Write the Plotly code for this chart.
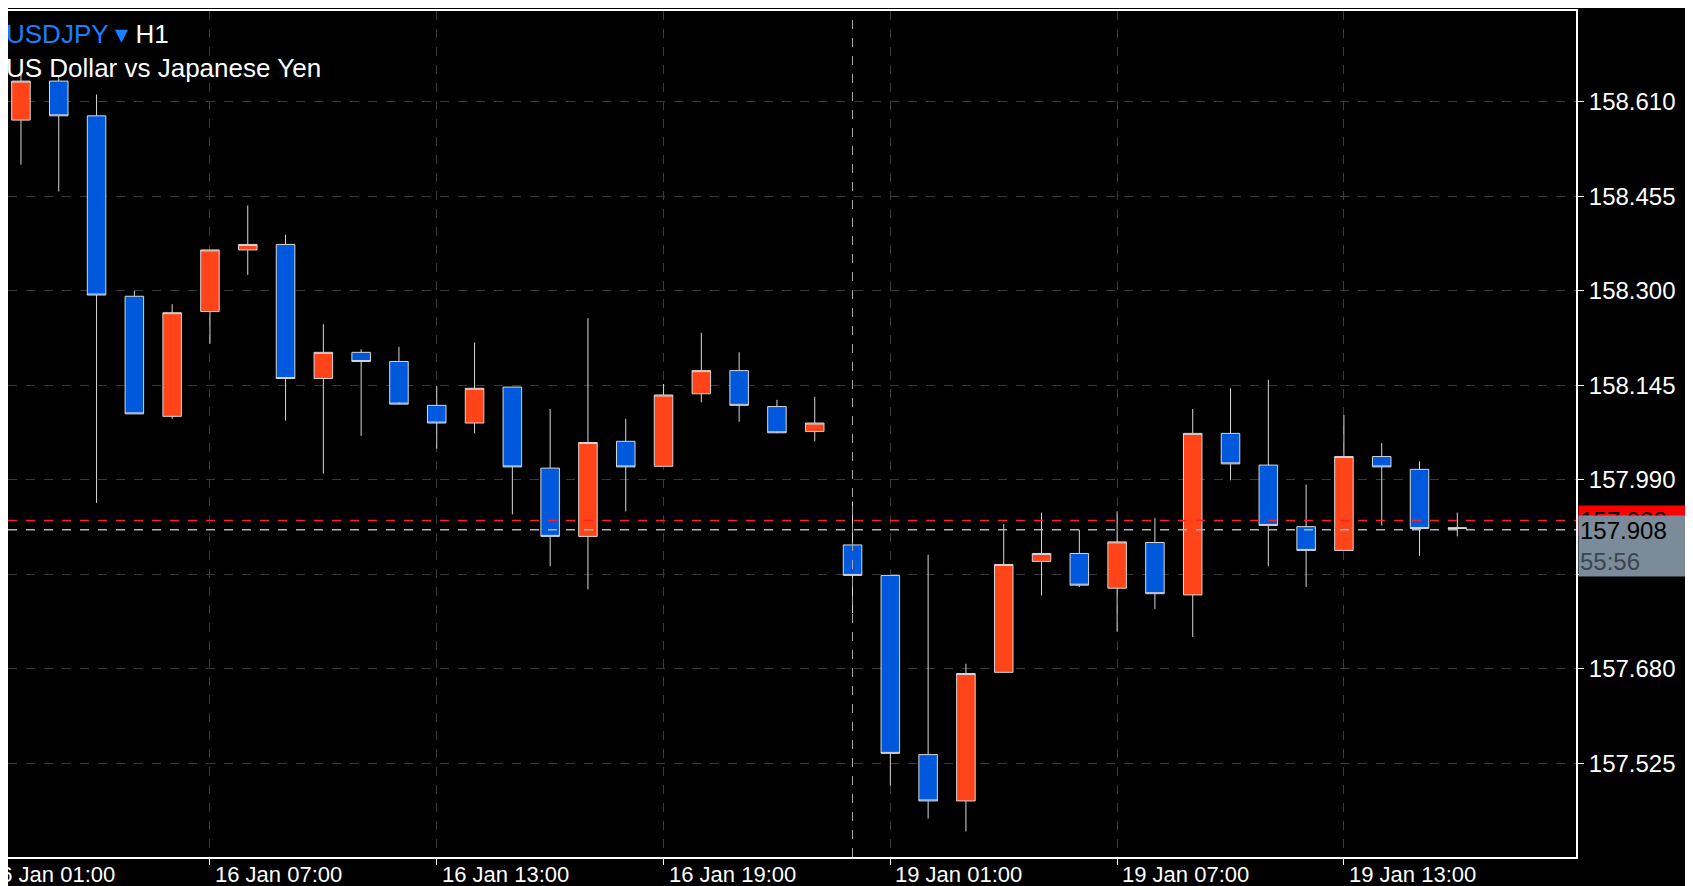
import plotly.graph_objects as go

# hourly candles, 16 Jan 02:00 .. 16 Jan 23:00, then 19 Jan 00:00 .. 16:00
times = [f"16 Jan {h:02d}:00" for h in range(2, 24)] + [f"19 Jan {h:02d}:00" for h in range(0, 17)]
opens = [158.580, 158.644, 158.587, 158.291, 158.094, 158.266, 158.367, 158.376, 158.156, 158.199,
         158.184, 158.112, 158.083, 158.142, 158.009, 157.897, 158.053, 158.012, 158.131, 158.169,
         158.110, 158.069, 157.883, 157.833, 157.539, 157.463, 157.674, 157.856, 157.869, 157.812,
         157.887, 157.801, 158.066, 158.014, 157.913, 157.874, 158.028, 158.007, 157.910]
highs = [158.658, 158.654, 158.622, 158.300, 158.278, 158.367, 158.440, 158.392, 158.245, 158.204,
         158.208, 158.144, 158.215, 158.142, 158.106, 158.255, 158.090, 158.147, 158.231, 158.199,
         158.121, 158.126, 157.954, 157.833, 157.867, 157.688, 157.917, 157.936, 157.908, 157.938,
         157.927, 158.106, 158.140, 158.154, 157.982, 158.096, 158.050, 158.020, 157.936]
lows = [158.507, 158.463, 157.952, 158.098, 158.090, 158.213, 158.326, 158.087, 158.000, 158.062,
        158.117, 158.041, 158.066, 157.933, 157.848, 157.810, 157.938, 158.012, 158.117, 158.085,
        158.069, 158.053, 157.771, 157.488, 157.434, 157.413, 157.674, 157.800, 157.814, 157.741,
        157.778, 157.732, 157.989, 157.848, 157.814, 157.874, 157.915, 157.865, 157.897]
closes = [158.644, 158.587, 158.293, 158.098, 158.264, 158.367, 158.376, 158.156, 158.199, 158.184,
          158.114, 158.083, 158.140, 158.011, 157.897, 158.051, 158.011, 158.129, 158.169, 158.112,
          158.067, 158.083, 157.833, 157.541, 157.463, 157.672, 157.851, 157.869, 157.817, 157.888,
          157.803, 158.066, 158.016, 157.915, 157.874, 158.028, 158.011, 157.910, 157.911]

price_ticks = [158.610, 158.455, 158.300, 158.145, 157.990, 157.835, 157.680, 157.525]
price_labels = ["158.610", "158.455", "158.300", "158.145", "157.990", "", "157.680", "157.525"]
time_tick_idx = [-1, 5, 11, 17, 23, 29, 35]
time_tick_text = ["16 Jan 01:00", "16 Jan 07:00", "16 Jan 13:00", "16 Jan 19:00",
                  "19 Jan 01:00", "19 Jan 07:00", "19 Jan 13:00"]
bid, ask = 157.908, 157.923
countdown = "55:56"
day_break_idx = 22

x = list(range(len(times)))
UP = "#FF4419"
DOWN = "#0058DD"
FONT = "Liberation Sans"
X0, X1 = -0.343, 41.14

fig = go.Figure(go.Candlestick(
    x=x, open=opens, high=highs, low=lows, close=closes, text=times,
    increasing=dict(fillcolor=UP, line=dict(color="#d8d8d8", width=1)),
    decreasing=dict(fillcolor=DOWN, line=dict(color="#d8d8d8", width=1)),
    whiskerwidth=0, showlegend=False,
))

for p, c in [(ask, "#ff2020"), (bid, "#a9b6c3")]:
    fig.add_shape(type="line", xref="paper", x0=0, x1=1, y0=p, y1=p,
                  line=dict(color=c, width=1.5, dash="dash"))
fig.add_shape(type="line", x0=day_break_idx, x1=day_break_idx, yref="paper", y0=0, y1=1,
              line=dict(color="#aaaaaa", width=1, dash="dash"))

annotations = []
for i, t in zip(time_tick_idx, time_tick_text):
    annotations.append(dict(x=(i - X0) / (X1 - X0), xref="paper", y=0, yref="paper", yshift=-3,
                            text=t, showarrow=False, xanchor="left", yanchor="top", xshift=3,
                            font=dict(color="white", size=22, family=FONT)))
annotations.append(dict(x=1, y=ask, xref="paper", text=f"{ask:.3f}", showarrow=False,
                        xanchor="left", xshift=2, bgcolor="#ff0000", width=116, align="left",
                        font=dict(color="black", size=24, family=FONT)))
annotations.append(dict(x=1, y=bid, xref="paper", yanchor="top", yshift=15,
                        text=f"{bid:.3f}<br><span style='color:#3a4550'>{countdown}</span>",
                        showarrow=False, xanchor="left", xshift=2, bgcolor="#7b8b99",
                        width=116, align="left", font=dict(color="black", size=24, family=FONT)))
annotations.append(dict(x=0, y=1, xref="paper", yref="paper", xanchor="left", yanchor="top",
                        yshift=-6, xshift=-4, showarrow=False, align="left",
                        text="<span style='color:#1a7fff'>USDJPY ▾</span> H1<br>US Dollar vs Japanese Yen",
                        font=dict(color="white", size=26, family=FONT)))

fig.update_layout(
    width=1693, height=886, paper_bgcolor="black", plot_bgcolor="black",
    margin=dict(l=0, r=125, t=3, b=37, autoexpand=False), annotations=annotations,
    xaxis=dict(range=[X0, X1], rangeslider=dict(visible=False),
               tickvals=time_tick_idx, ticktext=[""] * len(time_tick_idx),
               showgrid=True, gridcolor="#3a3a3a", griddash="dash",
               ticks="outside", ticklen=6, tickcolor="white",
               showline=True, linecolor="white", linewidth=2, mirror=True, zeroline=False),
    yaxis=dict(range=[157.371, 158.759], side="right", tickvals=price_ticks, ticktext=price_labels,
               showgrid=True, gridcolor="#3a3a3a", griddash="dash",
               ticks="outside", ticklen=6, tickcolor="white",
               tickfont=dict(color="white", size=24, family=FONT),
               showline=True, linecolor="white", linewidth=2, zeroline=False),
)

fig.write_html("out.html")
